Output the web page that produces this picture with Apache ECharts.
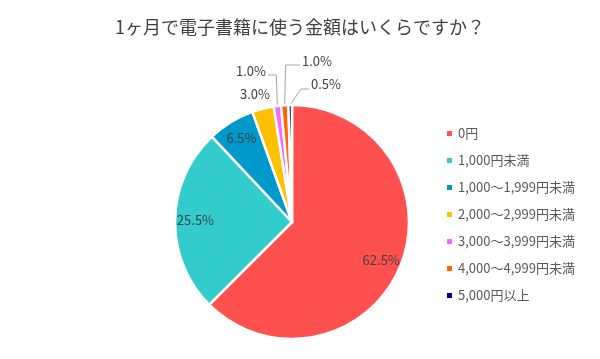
<!DOCTYPE html>
<html><head><meta charset="utf-8">
<script src="https://cdn.jsdelivr.net/npm/echarts@6/dist/echarts.min.js"></script>
<style>html,body{margin:0;padding:0;background:#fff}#c{width:600px;height:359px}</style>
</head><body><div id="c"></div>
<script>
var titleText = '1ヶ月で電子書籍に使う金額はいくらですか？';
var categories = ['0円','1,000円未満','1,000～1,999円未満','2,000～2,999円未満','3,000～3,999円未満','4,000～4,999円未満','5,000円以上'];
var values = [62.5, 25.5, 6.5, 3.0, 1.0, 1.0, 0.5];
var colors = ['#FF5050','#33CCCC','#0099CC','#FFC000','#FF66FF','#FF6600','#000099'];

var CX = 292, CY = 222, R = 117;
var FONT = '"Noto Sans CJK JP", sans-serif';
var chart = echarts.init(document.getElementById('c'), null, {renderer:'canvas'});

var data = categories.map(function(n,i){
  var outside = i >= 3;
  return {
    name: n, value: values[i],
    itemStyle: {color: colors[i]},
    label: {position: outside ? 'outside' : 'inside'},
    labelLine: {show: i >= 4}
  };
});

chart.setOption({
  animation: false,
  backgroundColor: '#fff',
  title: {
    text: titleText, left: 'center', top: 13,
    textStyle: {fontFamily: FONT, fontSize: 18, fontWeight: 'normal', color: '#404040'}
  },
  legend: {
    orient: 'vertical', left: 440, top: 122,
    itemWidth: 7, itemHeight: 7, itemGap: 14, icon: 'rect',
    textStyle: {fontFamily: FONT, fontSize: 13, color: '#595959'},
    data: categories
  },
  series: [{
    type: 'pie',
    center: [CX, CY], radius: [0, R],
    startAngle: 90, clockwise: true,
    itemStyle: {borderColor: '#fff', borderWidth: 2.5},
    label: {
      formatter: function(p){ return p.value.toFixed(1) + '%'; },
      fontFamily: FONT, fontSize: 13, color: '#404040'
    },
    labelLine: {lineStyle: {color: '#A6A6A6', width: 1}, length: 10, length2: 10, smooth: false},
    labelLayout: function(p){
      var i = p.dataIndex;
      var r = p.labelRect;
      if (i < 3) {
        var lx = r.x + r.width/2, ly = r.y + r.height/2;
        return {x: CX + (lx-CX)*1.57, y: CY + (ly-CY)*1.6, align:'center', verticalAlign:'middle'};
      }
      if (i === 3) return {x: 255, y: 94, align:'center', verticalAlign:'middle'};
      var p0 = p.labelLinePoints ? p.labelLinePoints[0] : [CX, CY-R];
      if (i === 4) return {x: 266, y: 71, align:'right', verticalAlign:'middle',
        labelLinePoints: [p0, [p0[0]-1, 75], [268, 75]]};
      if (i === 5) return {x: 302, y: 61, align:'left', verticalAlign:'middle',
        labelLinePoints: [p0, [p0[0]+1, 65], [300, 65]]};
      if (i === 6) return {x: 311, y: 84, align:'left', verticalAlign:'middle',
        labelLinePoints: [p0, [301, 89], [309, 89]]};
    },
    data: data
  }]
});
</script></body></html>
